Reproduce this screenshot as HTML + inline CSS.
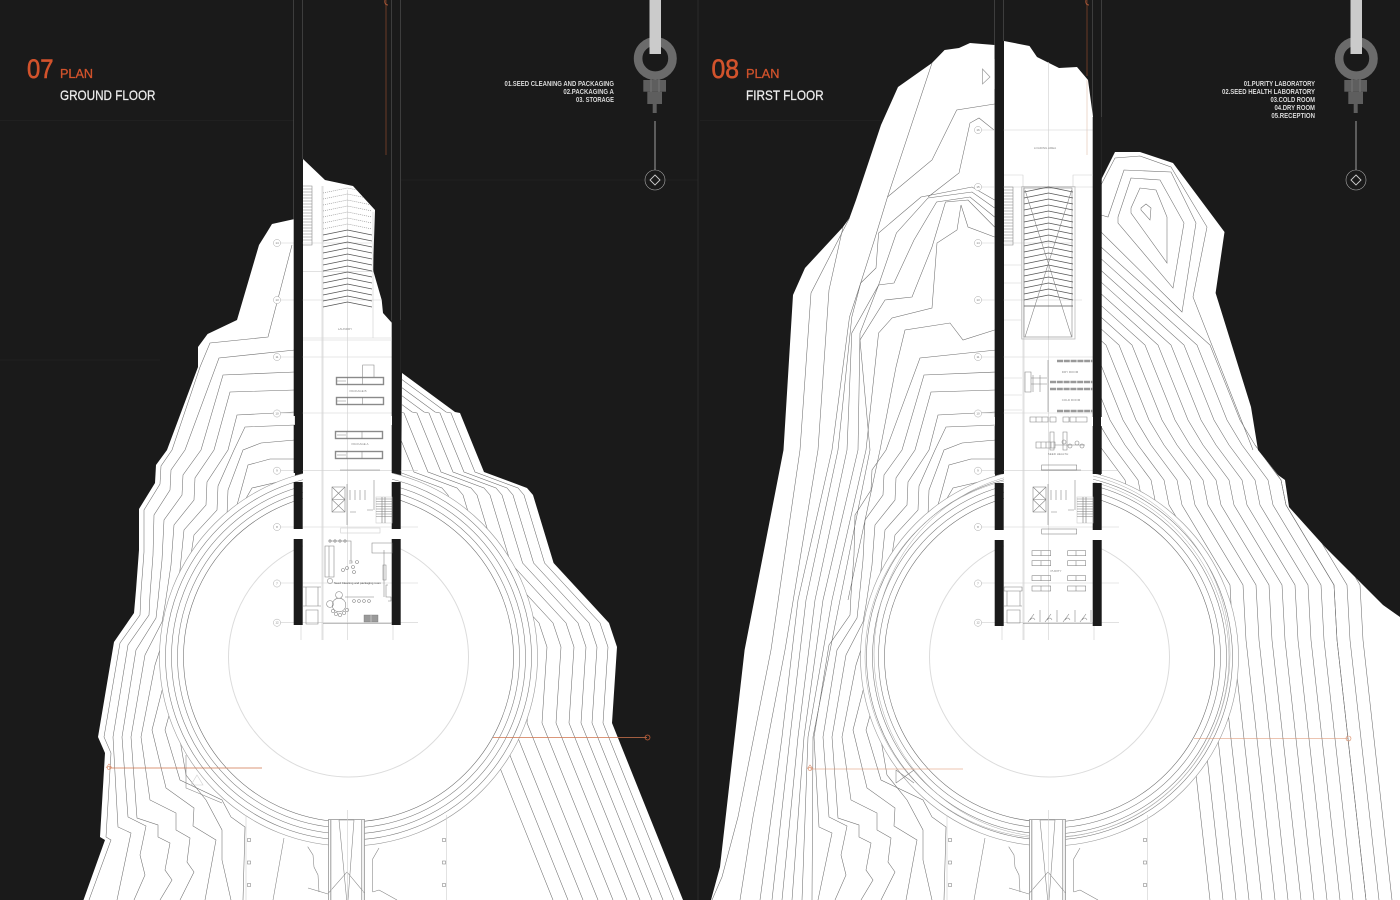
<!DOCTYPE html>
<html lang="en">
<head>
<meta charset="utf-8">
<title>Plans 07 and 08</title>
<style>
html,body{margin:0;padding:0;background:#1a1a1a;}
svg{display:block;}
text{font-family:"Liberation Sans Narrow","Liberation Sans",sans-serif;}
.c{fill:none;stroke:#6e6e6e;stroke-width:.55;stroke-linejoin:miter;}
.g{fill:none;stroke:#cfcfcf;stroke-width:.6;}
.d{fill:none;stroke:#808080;stroke-width:.55;}
.o{fill:none;stroke:#d98a65;stroke-width:.6;}
.lab{font-size:3px;fill:#888;text-anchor:middle;}
.ax{fill:#fff;stroke:#aaa;stroke-width:.5;}
.axt{font-size:3px;fill:#777;text-anchor:middle;}
</style>
</head>
<body>
<svg width="1400" height="900" viewBox="0 0 1400 900" xmlns="http://www.w3.org/2000/svg">
<defs>
<clipPath id="s1"><polygon points="294.6,219 272,224 266.5,233 259,245 237,320 207.6,334 198,347 198,367 167,450 156,465 155,483 139,509 139,550 136,590 134,613 114,642 98,737 105,753 100,837 105,840 83.5,900 683,900 612,723 617,647 609,623 553.6,563 533,495 527,488 484,472 475,450 460,413 455,412 402,373 401,500 295,500"/></clipPath>
<clipPath id="s2"><polygon points="994.6,45 970,43 959,48 944.6,50 932,63 898,87 881,125 856,200 849.5,218 843,227 805,268 793,295 783.5,450 744.6,650 720,867 711,900 1400,900 1400,617 1383,605 1325,547 1289,507 1285,480 1278,475 1258,450 1251,407 1215.6,293 1224.5,232 1173,163 1140,152 1115,152 1101,180 1101,500 995,500"/></clipPath>
<clipPath id="r1"><rect x="401" y="0" width="299" height="900"/></clipPath>
<clipPath id="r2"><rect x="1101" y="0" width="299" height="900"/></clipPath>
<clipPath id="st1"><polygon points="303,159 325,180 353,186 375,210 373,270 381.7,300 383,313 392,323 392,625 303,625"/></clipPath>

<path id="rightEdge" class="c" d="M402 373L455 412 460 413 475 450 484 472 527 488 533 495 553.6 563 609 623 617 647 612 723 683 900"/>

<g id="famA" class="c">
<polyline points="295,350 219,358 185,450 171,470 170,490 154,515 153,555 150,595 149,615 128,645 113,737 118,827 131,833 117,900"/>
<polyline points="295,372 223,375 201,450 183,475 182,495 164,520 162,560 158,600 156,618 136,650 122,737 128,817 146,826 140,855 145,875 134,900"/>
<polyline points="295,390 230,392 214,450 195,478 194,500 174,525 171,565 165,605 162,622 145,655 131,737 137,818 158,825 158,837 170,843 165,870 172,880 160,900"/>
<polyline points="295,412 237,415 228,450 207,482 206,505 184,530 180,570 172,610 167,628 155,665 141,737 150,800 176,813 176,830 190,838 187,862 194,872 180,900"/>
<polyline points="295,425 245,427 234,450 218,486 217,510 194,535 188,575 178,615 172,635 166,675 152,730 166,788 194,808 193,826 216,840 205,900"/>
<polyline points="295,440 261,443 243,450 228,490 227,515 203,540 196,580 184,620 178,645 176,690 165,730 180,780 222,800 231,817 245,827 243,900"/>
<polyline points="295,459 270,459 248,465 237,505 236,525 212,545 204,585 190,625 184,650 186,700 180,740 186,775 206,800 222,830 222,860 231,900"/>
<polyline points="295,478 252,488 241,507 225,517 212,560 200,600 192,640"/>
</g>

<path id="chS" fill="none" stroke="#555" stroke-width=".7" d="M323 235l24.5-5 24.5 5M323 241l24.5-5 24.5 5M323 247l24.5-5 24.5 5M323 253l24.5-5 24.5 5M323 259l24.5-5 24.5 5M323 265l24.5-5 24.5 5M323 271l24.5-5 24.5 5M323 277l24.5-5 24.5 5M323 283l24.5-5 24.5 5M323 289l24.5-5 24.5 5M323 295l24.5-5 24.5 5M323 301l24.5-5 24.5 5M323 307l24.5-5 24.5 5"/>

<g id="rings" fill="none">
<circle cx="348.5" cy="657" r="189" stroke="#999" stroke-width=".6" fill="#fff"/>
<circle cx="348.5" cy="657" r="183" stroke="#777" stroke-width=".55"/>
<circle cx="348.5" cy="657" r="177" stroke="#777" stroke-width=".55"/>
<circle cx="348.5" cy="657" r="171" stroke="#777" stroke-width=".55"/>
<circle cx="348.5" cy="657" r="165" stroke="#666" stroke-width=".55"/>
<circle cx="348.5" cy="657" r="120" stroke="#dcdcdc" stroke-width="1"/>
</g>

<g id="bridge">
<rect x="328.5" y="819.5" width="36" height="81" fill="#fff" stroke="#888" stroke-width=".7"/>
<path class="d" d="M330.7 820V900M339 820L346.7 900M354 820L348 900M361.7 820V900M328.5 893L347 872 364.5 893M339 820H354"/>
<path class="g" d="M331.5 820V900M363 820V900M347.5 810V900"/>
<path class="d" d="M307.7 846.7L313 855 314 867 318 875 319 892M308 888L328 894M379 848L372.7 859V892M379 890L397 900M372.7 892L379 890"/>
<path class="g" d="M246 815V900M446.7 815V900"/>
<path class="d" d="M284 838L273 900"/>
<g class="d">
<rect x="247.5" y="838.5" width="3" height="3"/><rect x="247.5" y="861" width="3" height="3"/><rect x="247.5" y="883.5" width="3" height="3"/>
<rect x="442.5" y="838.5" width="3" height="3"/><rect x="442.5" y="861" width="3" height="3"/><rect x="442.5" y="883.5" width="3" height="3"/>
</g>
</g>

<g id="wallsL" fill="#1a1a1a">
<rect x="293.7" y="219" width="9" height="197"/>
<rect x="293.7" y="425" width="9" height="48"/>
<rect x="293.7" y="482" width="9" height="47"/>
<rect x="293.7" y="539" width="9" height="86"/>
<rect x="391.7" y="320" width="9" height="96"/>
<rect x="391.7" y="425" width="9" height="48"/>
<rect x="391.7" y="482" width="9" height="47"/>
<rect x="391.7" y="539" width="9" height="86"/>
</g>

<g id="axes">
<path class="g" d="M301 640V625M393 640V625M323 640V186M322 640V186M347.5 640V190"/>
<path class="g" d="M280 470.7H418M280 527H418M280 583H418M280 622.7H418M280 413H392M280 357H392M280 300H381M280 243H372"/>
<g>
<circle class="ax" cx="277" cy="243" r="3.6"/><text class="axt" x="277" y="244">14</text>
<circle class="ax" cx="277" cy="300" r="3.6"/><text class="axt" x="277" y="301">13</text>
<circle class="ax" cx="277" cy="357" r="3.6"/><text class="axt" x="277" y="358">11</text>
<circle class="ax" cx="277" cy="413.5" r="3.6"/><text class="axt" x="277" y="414.5">10</text>
<circle class="ax" cx="277" cy="470.7" r="3.6"/><text class="axt" x="277" y="471.7">9</text>
<circle class="ax" cx="277" cy="527" r="3.6"/><text class="axt" x="277" y="528">8</text>
<circle class="ax" cx="277" cy="583.5" r="3.6"/><text class="axt" x="277" y="584.5">7</text>
<circle class="ax" cx="277" cy="622.7" r="3.6"/><text class="axt" x="277" y="623.7">12</text>
</g>
</g>

<g id="core">
<rect x="332" y="487" width="13" height="25" class="d"/>
<path class="d" d="M332 487L345 499.5M345 487L332 499.5M332 499.5H345M332 499.5L345 512M345 499.5L332 512"/>
<path class="d" d="M350 490V500M355 490V500M360 490V500M365 490V500M347 484V525M374 480V510M350 512H356M367 510H373M340 470H380"/>
<rect x="376" y="497" width="16" height="26" class="g"/>
<path d="M382 497V523M385 497V523" stroke="#777" stroke-width=".6" fill="none"/>
<path class="d" d="M376 499H392M376 501.5H392M376 504H392M376 506.5H392M376 509H392M376 511.5H392M376 514H392M376 516.5H392"/>
</g>

<g id="ico">
<circle cx="655.3" cy="58.5" r="17.2" fill="none" stroke="#6b6b6b" stroke-width="8.6"/>
<rect x="649.5" y="0" width="11.5" height="54" fill="#cbcbcb"/>
<rect x="643.3" y="80" width="22.7" height="11.7" fill="#5e5e5e"/>
<rect x="647.3" y="91.7" width="14.7" height="12.3" fill="#5e5e5e"/>
<rect x="652.7" y="104" width="4" height="9" fill="#5e5e5e"/>
<path d="M651 79V92M659 79V92" stroke="#777" stroke-width="1"/>
<path d="M655 121V170" stroke="#8a8a8a" stroke-width="1.2"/>
<circle cx="655" cy="180" r="10" fill="none" stroke="#aaa" stroke-width=".6"/>
<path d="M655 175L660 180 655 185 650 180Z" fill="none" stroke="#ccc" stroke-width=".9"/>
</g>
</defs>

<rect width="1400" height="900" fill="#1a1a1a"/>
<path d="M0 120.5H294M700 120.5H995M401 180H698M0 360H160" stroke="#202020" stroke-width="1" fill="none"/>
<path d="M698 0V900" stroke="#333" stroke-width=".7"/>

<!-- PANEL 1 -->
<path d="M293.5 0V219M302.7 0V159M391.7 0V323M400.5 0V373" stroke="#555" stroke-width=".6"/>
<path d="M386 0V155" stroke="#8f4a2e" stroke-width=".7"/>
<path d="M385 0Q384 5 388 5" stroke="#c9653e" stroke-width=".7" fill="none"/>

<polygon fill="#fff" points="294.6,219 272,224 266.5,233 259,245 237,320 207.6,334 198,347 198,367 167,450 156,465 155,483 139,509 139,550 136,590 134,613 114,642 98,737 105,753 100,837 105,840 83.5,900 683,900 612,723 617,647 609,623 553.6,563 533,495 527,488 484,472 475,450 460,413 455,412 402,373 401,500 295,500"/>
<g clip-path="url(#s1)">
<polyline class="c" points="292,245 268,337 210,343 200,367 172,450 161,466 160,484 144,510 144,552 141,592 140,615 120,643 104,737 111,753 106,837 111,840 89,900"/>
<use href="#famA"/>
<g clip-path="url(#r1)">
<use href="#rightEdge" transform="translate(-9,0)"/>
<use href="#rightEdge" transform="translate(-20,0)"/>
<use href="#rightEdge" transform="translate(-31,0)"/>
<use href="#rightEdge" transform="translate(-43,0)"/>
<use href="#rightEdge" transform="translate(-56,0)"/>
<use href="#rightEdge" transform="translate(-70,0)"/>
<use href="#rightEdge" transform="translate(-85,0)"/>
<use href="#rightEdge" transform="translate(-100,0)"/>
<use href="#rightEdge" transform="translate(-115,0)"/>
<use href="#rightEdge" transform="translate(-130,0)"/>
</g>
</g>
<use href="#rings"/>
<polyline class="d" points="186,755 186,788 222,803" />
<path class="g" d="M197 775L203 785H191Z"/>
<use href="#bridge"/>
<path d="M493 737.5H647M109 768H262" fill="none" stroke="#d0754f" stroke-width=".7"/>
<circle cx="647.5" cy="737.5" r="2.5" fill="none" stroke="#d0653c" stroke-width=".7"/>
<path class="o" d="M106 768L109 764 112 768"/>
<circle class="o" cx="109" cy="768" r="1.6"/>
<polygon fill="#fff" points="303,159 325,180 353,186 375,210 373,270 381.7,300 383,313 392,323 392,625 303,625"/>
<use href="#axes"/>
<use href="#wallsL"/>
<path class="g" d="M303 338H392M303 340H392M303 271.7H373"/>
<!-- stair + ramp -->
<path class="d" d="M303 186H312V245H303M303 189H312M303 192H312M303 195H312M303 198H312M303 201H312M303 204H312M303 207H312M303 210H312M303 213H312M303 216H312M303 219H312M303 222H312M303 225H312M303 228H312M303 231H312M303 234H312M303 237H312M303 240H312"/>
<path class="g" d="M373 212V338"/>
<use href="#chS"/>
<g clip-path="url(#st1)">
<path fill="none" stroke="#888" stroke-width=".6" stroke-dasharray="1 1" d="M323 229l24.5-5 24.5 5M323 223l24.5-5 24.5 5M323 217l24.5-5 24.5 5M323 211l24.5-5 24.5 5M323 205l24.5-5 24.5 5M323 199l24.5-5 24.5 5M323 193l24.5-5 24.5 5"/>
</g>
<text class="lab" x="345" y="330">LAUNDRY</text>
<!-- packaging -->
<g fill="#fff" stroke="#8a8a8a" stroke-width="1.4">
<rect x="336.5" y="377.5" width="47" height="7"/>
<rect x="336.5" y="397.5" width="47" height="7"/>
<rect x="335.5" y="431.5" width="47" height="7"/>
<rect x="335.5" y="451.5" width="47" height="7"/>
</g>
<path class="d" d="M362.7 377V365H374V377M347.5 377V385M362.7 377V385M347.5 397V405M362.7 397V405M347 431V439M362 431V439M347 451V459M362 451V459M337 381H346M337 401H346M337 435H346M337 455H346"/>
<text class="lab" x="358" y="392">PACKAGE B</text>
<text class="lab" x="360" y="445">PACKAGE A</text>
<use href="#core"/>
<rect class="g" x="340.7" y="528" width="39.3" height="5"/>
<!-- room -->
<path class="d" d="M325 546H334V577H325ZM329 546V577M329 541H351V561M349 561H352V563H349"/>
<path class="d" d="M372 543H392V553H372ZM384 550V597M383 565H386V580H383ZM388 585H386V597H391V601H388"/>
<g class="d"><circle cx="330" cy="541" r="1.2"/><circle cx="335" cy="541" r="1.2"/><circle cx="340" cy="541" r="1.2"/><circle cx="345" cy="541" r="1.2"/>
<circle cx="343" cy="570" r="1.5"/><circle cx="347" cy="568" r="1.5"/><circle cx="354" cy="572" r="1.5"/><circle cx="357" cy="562" r="1.5"/><circle cx="353" cy="567" r="1.5"/>
<circle cx="330" cy="581" r="2.6"/><circle cx="339" cy="605" r="6.8"/><circle cx="339" cy="595" r="3.4"/><circle cx="330" cy="604" r="3.4"/>
<circle cx="333" cy="611" r="1.6"/><circle cx="336" cy="614" r="1.6"/><circle cx="340" cy="615" r="1.6"/><circle cx="344" cy="613" r="1.6"/><circle cx="347" cy="610" r="1.6"/>
<circle cx="354" cy="601" r="1.4"/><circle cx="359" cy="601" r="1.4"/><circle cx="364" cy="601" r="1.4"/><circle cx="369" cy="601" r="1.4"/></g>
<path class="d" d="M345 597H374"/>
<text x="334" y="584" style="font-size:3px" fill="#444" textLength="47" lengthAdjust="spacingAndGlyphs">Seed Cleaning and packaging room</text>
<path class="d" d="M303 587H321M306 587V606H318V587M303 606H321M306 610H318V624H306Z"/>
<rect x="364" y="615" width="14" height="7" fill="#9a9a9a" stroke="#777" stroke-width=".4"/>
<path d="M371 615V622" stroke="#ddd" stroke-width=".6"/>
<path d="M323 623.3H392" stroke="#999" stroke-width=".7"/>

<!-- PANEL 2 -->
<path d="M994.5 0V45M1003.7 0V41M1092.7 0V117M1101.5 0V180" stroke="#555" stroke-width=".6"/>
<path d="M1087 0V76" stroke="#8f4a2e" stroke-width=".7"/>
<path d="M1086 0Q1085 5 1089 5" stroke="#c9653e" stroke-width=".7" fill="none"/>

<polygon fill="#fff" points="994.6,45 970,43 959,48 944.6,50 932,63 898,87 881,125 856,200 849.5,218 843,227 805,268 793,295 783.5,450 744.6,650 720,867 711,900 1400,900 1400,617 1383,605 1325,547 1289,507 1285,480 1278,475 1258,450 1251,407 1215.6,293 1224.5,232 1173,163 1140,152 1115,152 1101,180 1101,500 995,500"/>
<g clip-path="url(#s2)">
<use href="#famA" transform="translate(701,0)"/>
<g class="c">
<polyline points="932,63 887.5,197 875,238 860.7,283 849.5,317 832,450 798,600 782,737 760,900"/>
<polyline points="849.5,218 811,293 800,450 771,650 738,817 722,877 712,900"/>
<polyline points="843,227 829,290 818,450 785,650 753,817 740,900"/>
<polyline points="994.6,104 956.7,110 932,160 887.5,197"/>
<polyline points="994,130 979,118 970,123 959,173 928,197"/>
<polyline points="994.6,200 972,187 921,197 878.6,233 876,268 860.7,283 851.8,317 838,450 806,600 790,737 772,900"/>
<polyline points="994.6,208 972,192 928,198 896.4,233 878.6,285 851.8,333 847,450 815,600 798,737 782,900"/>
<polyline points="994.6,217 970,197 936.6,202 914,240 894,283 878.6,285 860,333 858,450 823,600 804,737 792,900"/>
<polyline points="994.6,227 968,200 945.5,202 932,247 912,297 885,300 860,340 870,450 840,600 813,737 812,900"/>
<polyline points="994.6,237 968,227 961,205 957,230 937,243 932,308 892,318 878.6,333 866,450 832,600 808,737 802,900"/>
<polyline points="994.6,330 963,340 950,323 905,330 896,367 880,450 848,600"/>
<!-- right lobe -->
<polygon points="1141,208 1146,204 1151,208 1150,220 1141,210"/>
<polygon points="1131,208 1140,188 1156,190 1167,217 1167,263 1131,213"/>
<polygon points="1118,217 1131,178 1160,180 1184,223 1173,288 1118,223"/>
<polyline points="1101,215 1108,217 1124,170 1171,172 1196,223 1182,312 1101,232"/>
<polyline points="1101,185 1115,158 1140,156 1171,167 1207,227 1193,297 1253,450"/>
</g>
<g clip-path="url(#r2)">
<path id="re2t" class="c" d="M1255 445L1281 480 1286 505 1334 585 1337 640 1366 900"/>
<use href="#re2t" transform="translate(26,0)"/>
<use href="#re2t" transform="translate(13,0)"/>
<path id="re2" class="c" d="M1101 247L1210 345 1240 420 1255 445 1281 480 1286 505 1334 585 1337 640 1366 900"/>
<use href="#re2" transform="translate(-13,0)"/>
<use href="#re2" transform="translate(-26,0)"/>
<use href="#re2" transform="translate(-39,0)"/>
<use href="#re2" transform="translate(-52,0)"/>
<use href="#re2" transform="translate(-65,0)"/>
<use href="#re2" transform="translate(-78,0)"/>
<use href="#re2" transform="translate(-91,0)"/>
<use href="#re2" transform="translate(-104,0)"/>
<use href="#re2" transform="translate(-117,0)"/>
<use href="#re2" transform="translate(-130,0)"/>
<use href="#re2" transform="translate(-143,0)"/>
<use href="#re2" transform="translate(-156,0)"/>
</g>
</g>
<use href="#rings" transform="translate(701,0)"/>
<g fill="none" stroke="#aaa" stroke-width=".5">
<ellipse cx="1047" cy="657" rx="182" ry="181"/>
<ellipse cx="1052" cy="654" rx="178" ry="183"/>
</g>
<path class="d" d="M896 783L914 770M896 770L914 783M896 770V783"/>
<use href="#bridge" transform="translate(701,0)"/>
<path class="o" d="M1194 738.5H1348M810 769H963"/>
<circle class="o" cx="1348.5" cy="738.5" r="2.5"/>
<path class="o" d="M807 769L810 765 813 769"/>
<circle class="o" cx="810" cy="769" r="1.6"/>
<polygon fill="#fff" points="1004,41 1029.5,46 1037,57 1059,68 1077,67 1088,80 1093,117 1093,625 1004,625"/>
<path d="M1087 80V155" stroke="#e4c8b8" stroke-width=".7"/>
<polygon fill="none" stroke="#999" stroke-width=".7" points="982.5,69 990,77 982.5,84"/>
<use href="#axes" transform="translate(701,0)"/>
<g>
<path class="g" d="M980 130H1093M980 187H1093M1048.5 62V190"/>
<circle class="ax" cx="978" cy="130" r="3.6"/><text class="axt" x="978" y="131">16</text>
<circle class="ax" cx="978" cy="187" r="3.6"/><text class="axt" x="978" y="188">15</text>
</g>
<g fill="#1a1a1a">
<rect x="994.7" y="45" width="9" height="14"/>
<rect x="994.7" y="89" width="9" height="328"/>
<rect x="994.7" y="426" width="9" height="48"/>
<rect x="994.7" y="483" width="9" height="47"/>
<rect x="994.7" y="540" width="9" height="86"/>
<rect x="1092.7" y="117" width="9" height="300"/>
<rect x="1092.7" y="426" width="9" height="48"/>
<rect x="1092.7" y="483" width="9" height="47"/>
<rect x="1092.7" y="540" width="9" height="86"/>
</g>
<text class="lab" x="1045" y="149">LOADING AREA</text>
<path class="g" d="M1004 175H1023V187M1073 187V175H1093"/>
<rect x="1021.7" y="186.7" width="53.3" height="152.3" fill="none" stroke="#bbb" stroke-width=".8"/>
<rect x="1024" y="188" width="48" height="149" fill="none" stroke="#888" stroke-width=".6"/>
<use href="#chS" transform="translate(701,-43)"/>
<path fill="none" stroke="#555" stroke-width=".7" d="M1024 270l24.5-5 24.5 5M1024 276l24.5-5 24.5 5M1024 282l24.5-5 24.5 5M1024 288l24.5-5 24.5 5M1024 294l24.5-5 24.5 5M1024 300l24.5-5 24.5 5M1024 306H1073"/>
<path class="d" d="M1025 190L1071.7 337M1071.7 190L1025 337"/>
<path class="d" d="M1004 187H1013V245H1004M1004 190H1013M1004 193H1013M1004 196H1013M1004 199H1013M1004 202H1013M1004 205H1013M1004 208H1013M1004 211H1013M1004 214H1013M1004 217H1013M1004 220H1013M1004 223H1013M1004 226H1013M1004 229H1013M1004 232H1013M1004 235H1013M1004 238H1013M1004 241H1013"/>
<path class="g" d="M1004 265H1022M1004 283H1022M1004 320H1022M1004 378H1022M1004 395H1022M1004 410H1022"/>
<!-- racks -->
<g fill="none" stroke="#999" stroke-width="2.4" stroke-dasharray="6 .8">
<path d="M1057 361H1093M1050 382H1093M1050 389H1093M1057 411H1093"/>
</g>
<text class="lab" x="1070" y="373">DRY ROOM</text>
<text class="lab" x="1071" y="401">COLD ROOM</text>
<path class="d" d="M1025 372H1031V392H1025ZM1031 378H1047M1031 384H1047M1048 360V412M1033 375V392M1040 375V392"/>
<path class="d" d="M1030 417H1048V422H1030ZM1036 417V422M1042 417V422M1050 417H1056V422H1050ZM1063 417H1069V422H1063ZM1070 417H1087V422H1070ZM1076 417V422"/>
<path class="d" d="M1036 442H1055V448H1036ZM1041 442V448M1046 442V448M1051 442V448M1050 432H1054V450H1050ZM1063 432H1067V450H1063ZM1055 445H1085"/>
<g class="d"><circle cx="1064" cy="442" r="2"/><circle cx="1070" cy="446" r="2"/><circle cx="1077" cy="443" r="2"/><circle cx="1082" cy="446" r="2"/></g>
<text class="lab" x="1058" y="455">SEED HEALTH</text>
<rect class="d" x="1041.7" y="465" width="35" height="5"/>
<use href="#core" transform="translate(701,0)"/>
<rect class="d" x="1041.7" y="529" width="35" height="5"/>
<g class="d">
<rect x="1032" y="550.7" width="18.7" height="5"/><rect x="1067.7" y="550.7" width="18" height="5"/>
<rect x="1032" y="560.7" width="18.7" height="5"/><rect x="1067.7" y="560.7" width="18" height="5"/>
<rect x="1032" y="575.7" width="18.7" height="5"/><rect x="1067.7" y="575.7" width="18" height="5"/>
<rect x="1032" y="586" width="18.7" height="5"/><rect x="1067.7" y="586" width="18" height="5"/>
<path d="M1041 550.7V555.7M1076 550.7V555.7M1041 560.7V565.7M1076 560.7V565.7M1041 575.7V580.7M1076 575.7V580.7M1041 586V591M1076 586V591"/>
</g>
<text class="lab" x="1056" y="572">PURITY</text>
<path class="d" d="M1004 587H1022V591H1004ZM1007 591V606H1020V591M1004 606H1022M1007 610H1020V623H1007Z"/>
<path class="d" d="M1023 623.5H1093M1030 620q3 -4 5 0M1047 620q3 -4 5 0M1065 620q3 -4 5 0M1082 620q3 -4 5 0M1028 622L1034 614M1045 622L1051 614M1063 622L1069 614M1080 622L1086 614M1040 610V622M1057 610V622M1075 610V622M1091 610V622"/>

<!-- ICONS -->
<use href="#ico"/>
<use href="#ico" transform="translate(701,0)"/>

<!-- TEXT -->
<g fill="#d2532c" stroke="#d2532c">
<text x="27" y="78" font-size="27" stroke-width=".6" textLength="26.5" lengthAdjust="spacingAndGlyphs">07</text>
<text x="60" y="78" font-size="13" stroke-width=".3" textLength="33" lengthAdjust="spacingAndGlyphs">PLAN</text>
<text x="711.5" y="78" font-size="27" stroke-width=".6" textLength="27.5" lengthAdjust="spacingAndGlyphs">08</text>
<text x="746" y="78" font-size="13" stroke-width=".3" textLength="33.5" lengthAdjust="spacingAndGlyphs">PLAN</text>
</g>
<g fill="#ececec" stroke="#ececec" stroke-width=".25" font-size="14">
<text x="60" y="100" textLength="95.5" lengthAdjust="spacingAndGlyphs">GROUND FLOOR</text>
<text x="746" y="100" textLength="77.7" lengthAdjust="spacingAndGlyphs">FIRST FLOOR</text>
</g>
<g font-size="7" fill="#d8d8d8" font-weight="bold">
<text x="504.5" y="86" textLength="109.5" lengthAdjust="spacingAndGlyphs">01.SEED CLEANING AND PACKAGING</text>
<text x="563.4" y="94" textLength="50.5" lengthAdjust="spacingAndGlyphs">02.PACKAGING A</text>
<text x="576" y="102" textLength="38" lengthAdjust="spacingAndGlyphs">03. STORAGE</text>
<text x="1243.7" y="86" textLength="71.3" lengthAdjust="spacingAndGlyphs">01.PURITY LABORATORY</text>
<text x="1222" y="94" textLength="93" lengthAdjust="spacingAndGlyphs">02.SEED HEALTH LABORATORY</text>
<text x="1270.5" y="102" textLength="44.5" lengthAdjust="spacingAndGlyphs">03.COLD ROOM</text>
<text x="1274.5" y="110" textLength="40.5" lengthAdjust="spacingAndGlyphs">04.DRY ROOM</text>
<text x="1271.4" y="118" textLength="43.6" lengthAdjust="spacingAndGlyphs">05.RECEPTION</text>
</g>
</svg>
</body>
</html>
